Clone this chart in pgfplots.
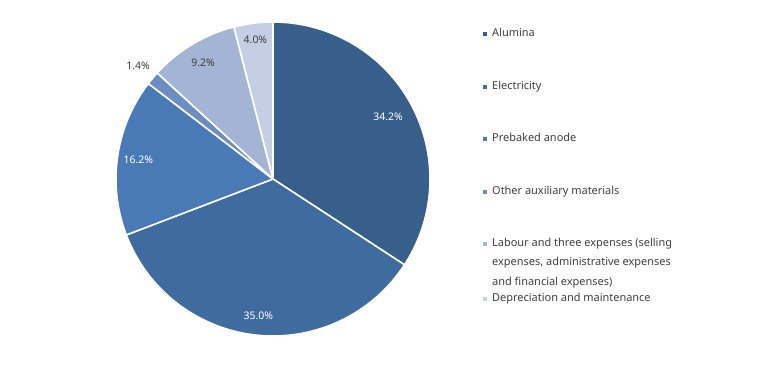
\documentclass[border=0pt]{standalone}
\usepackage{pgfplots}
\pgfplotsset{compat=1.18}
\usepackage{fontspec}
\setmainfont{Noto Sans}
\definecolor{c1}{HTML}{385E8B}
\definecolor{c2}{HTML}{3F6B9F}
\definecolor{c3}{HTML}{4A7AB5}
\definecolor{c4}{HTML}{6D8DC2}
\definecolor{c5}{HTML}{A3B4D5}
\definecolor{c6}{HTML}{C4CEE4}
\definecolor{txt}{HTML}{404040}
% shares in percent
\def\pA{34.2}\def\pB{35.0}\def\pC{16.2}\def\pD{1.4}\def\pE{9.2}\def\pF{4.0}
\pgfmathsetmacro{\aA}{90}
\pgfmathsetmacro{\aB}{\aA-3.6*\pA}
\pgfmathsetmacro{\aC}{\aB-3.6*\pB}
\pgfmathsetmacro{\aD}{\aC-3.6*\pC}
\pgfmathsetmacro{\aE}{\aD-3.6*\pD}
\pgfmathsetmacro{\aF}{\aE-3.6*\pE}
\pgfmathsetmacro{\aG}{\aF-3.6*\pF}
\newcommand{\slice}[3]{%
  \addplot[fill=#3, draw=white, line width=1.6pt, line join=round, domain=#2:#1, samples=90]
    ({273+157*cos(x)},{193+157*sin(x)}) -- (273,193) -- cycle;}
\newcommand{\lbl}[4]{%
  \node[text=#4, font=\fontsize{10.5}{12}\selectfont] at (axis cs:{273+#2*cos(#1)},{193+#2*sin(#1)}) {#3};}
\newcommand{\legtxt}[2]{%
  \node[anchor=base west, text=txt, font=\fontsize{11}{13}\selectfont, inner sep=0pt] at (axis cs:492,#1) {#2};}
\newcommand{\leg}[3]{%
  \fill[#1] (axis cs:483,#2) rectangle (axis cs:487,#2+4);
  \legtxt{#2}{#3}}
\begin{document}
\begin{tikzpicture}
\begin{axis}[x=1bp, y=1bp, xmin=0, xmax=765, ymin=0, ymax=372,
  scale only axis, hide axis, clip=false]
\addplot[draw=none, forget plot] coordinates {(0,0) (765,372)};
\slice{\aA}{\aB}{c1}
\slice{\aB}{\aC}{c2}
\slice{\aC}{\aD}{c3}
\slice{\aD}{\aE}{c4}
\slice{\aE}{\aF}{c5}
\slice{\aF}{\aG}{c6}
\lbl{28.44}{131}{34.2\%}{white}
\lbl{-96.12}{138}{35.0\%}{white}
\lbl{-188.28}{136}{16.2\%}{white}
\lbl{-219.96}{176}{1.4\%}{txt}
\lbl{-239.04}{136}{9.2\%}{txt}
\lbl{-262.8}{140}{4.0\%}{txt}
\leg{c1}{336}{Alumina}
\leg{c2}{283}{Electricity}
\leg{c3}{231}{Prebaked anode}
\leg{c4}{178}{Other auxiliary materials}
\leg{c5}{126}{Labour and three expenses (selling}
\legtxt{106.5}{expenses, administrative expenses}
\legtxt{87}{and financial expenses)}
\leg{c6}{71}{Depreciation and maintenance}
\end{axis}
\end{tikzpicture}
\end{document}
